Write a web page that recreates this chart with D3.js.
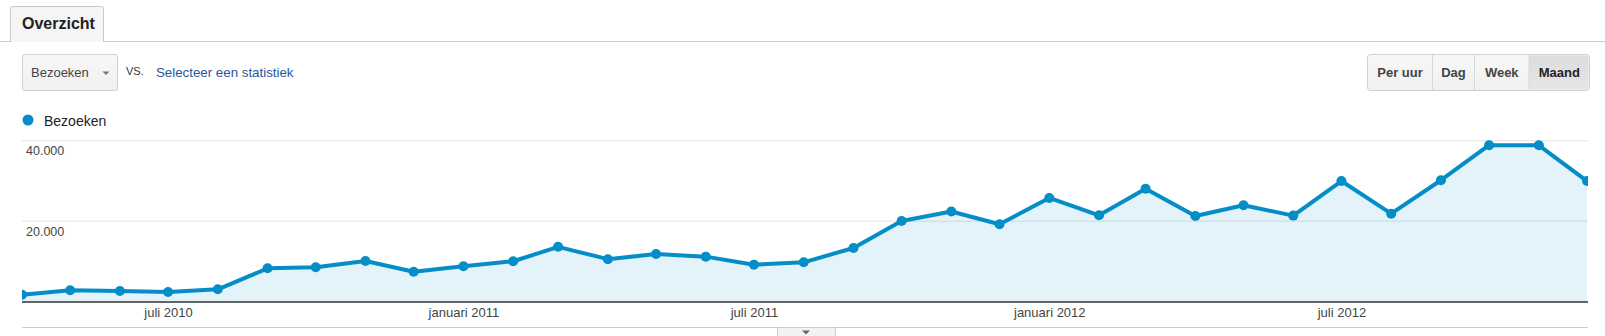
<!DOCTYPE html>
<html>
<head>
<meta charset="utf-8">
<script src="https://cdn.jsdelivr.net/npm/d3@7"></script>
<style>
  body { margin: 0; background: #fff; }
  svg { display: block; font-family: Arial, "Liberation Sans", sans-serif; }
</style>
</head>
<body>
<div id="chart"></div>
<script>
// visits per month, april 2010 .. december 2012
var visits = [1810, 2900, 2730, 2480, 3140, 8350, 8600, 10170, 7500,
              8850, 10100, 13680, 10620, 11900, 11250, 9260, 9840, 13400, 20100, 22450, 19280,
              25800, 21500, 28100, 21340, 24000, 21420, 30000, 21900, 30200, 38880, 38850, 30000];
var firstMonth = new Date(Date.UTC(2010, 3, 1)),
    lastMonth = new Date(Date.UTC(2012, 11, 1));
var months = d3.utcMonth.range(firstMonth, d3.utcMonth.offset(lastMonth, 1));

var xTickDates = [new Date(Date.UTC(2010, 6, 1)), new Date(Date.UTC(2011, 0, 1)),
                  new Date(Date.UTC(2011, 6, 1)), new Date(Date.UTC(2012, 0, 1)),
                  new Date(Date.UTC(2012, 6, 1))];
var xTickLabels = ["juli 2010", "januari 2011", "juli 2011", "januari 2012", "juli 2012"];
var yTicks = [20000, 40000];
var yTickLabels = ["20.000", "40.000"];
var periods = ["Per uur", "Dag", "Week", "Maand"];

var data = months.map(function(m, i) { return {date: m, value: visits[i]}; });

var outerWidth = 1605,
    outerHeight = 336,
    plot = {left: 22, right: 1588, top: 140.7, bottom: 302};

var x = d3.scaleUtc()
    .domain([firstMonth, lastMonth])
    .range([plot.left, 1587]);

var y = d3.scaleLinear()
    .domain([0, 40000])
    .range([plot.bottom, plot.top]);

var svg = d3.select("#chart")
    .append("svg")
        .attr("width", outerWidth)
        .attr("height", outerHeight);

var defs = svg.append("defs");
var grad = defs.append("linearGradient").attr("id", "btn").attr("x1", 0).attr("y1", 0).attr("x2", 0).attr("y2", 1);
grad.append("stop").attr("offset", "0%").attr("stop-color", "#f8f8f8");
grad.append("stop").attr("offset", "100%").attr("stop-color", "#f0f0f0");
var gradOn = defs.append("linearGradient").attr("id", "btnOn").attr("x1", 0).attr("y1", 0).attr("x2", 0).attr("y2", 1);
gradOn.append("stop").attr("offset", "0%").attr("stop-color", "#dcdcdc");
gradOn.append("stop").attr("offset", "100%").attr("stop-color", "#e6e6e6");
defs.append("clipPath").attr("id", "clip")
  .append("rect")
    .attr("x", plot.left).attr("y", 0)
    .attr("width", plot.right - plot.left).attr("height", plot.bottom);

// tab strip
svg.append("line")
    .attr("x1", 0).attr("x2", outerWidth)
    .attr("y1", 41.5).attr("y2", 41.5)
    .attr("stroke", "#c8c8c8");
svg.append("path")
    .attr("d", "M10.5,42V8.5Q10.5,6.5 12.5,6.5H101.5Q103.5,6.5 103.5,8.5V42")
    .attr("fill", "#f5f5f5")
    .attr("stroke", "#c8c8c8");
svg.append("text")
    .attr("x", 22).attr("y", 29)
    .style("font-size", "16px").style("font-weight", "bold").style("fill", "#222")
    .text("Overzicht");

// metric selector
svg.append("rect")
    .attr("x", 22.5).attr("y", 54.5).attr("width", 95).attr("height", 36).attr("rx", 2)
    .attr("fill", "url(#btn)").attr("stroke", "#d0d0d0");
svg.append("text")
    .attr("x", 31).attr("y", 77)
    .style("font-size", "13px").style("fill", "#444")
    .text("Bezoeken");
svg.append("path")
    .attr("d", "M102.5,71.5h7l-3.5,3.5z")
    .attr("fill", "#777");
svg.append("text")
    .attr("x", 126).attr("y", 75)
    .style("font-size", "11px").style("fill", "#333")
    .text("VS.");
svg.append("text")
    .attr("x", 156).attr("y", 77)
    .style("font-size", "13.3px").style("fill", "#2a5599")
    .text("Selecteer een statistiek");

// period buttons
var btnEdges = [1367.5, 1432.5, 1474.5, 1529, 1589.5];
var btn = svg.append("g");
btn.append("rect")
    .attr("x", btnEdges[0]).attr("y", 54.5)
    .attr("width", btnEdges[4] - btnEdges[0]).attr("height", 36).attr("rx", 3)
    .attr("fill", "url(#btn)").attr("stroke", "#d0d0d0");
btn.append("path")
    .attr("d", "M1529,55.5H1586.5Q1588.5,55.5 1588.5,57.5V87.5Q1588.5,89.5 1586.5,89.5H1529Z")
    .attr("fill", "url(#btnOn)");
btn.selectAll(".sep")
    .data(btnEdges.slice(1, 4))
    .enter().append("line")
    .attr("x1", function(d) { return d; }).attr("x2", function(d) { return d; })
    .attr("y1", 55).attr("y2", 90)
    .attr("stroke", "#d8d8d8");
btn.selectAll(".lbl")
    .data(periods)
    .enter().append("text")
    .attr("x", function(d, i) { return (btnEdges[i] + btnEdges[i + 1]) / 2; })
    .attr("y", 77)
    .attr("text-anchor", "middle")
    .style("font-size", "13px").style("font-weight", "bold")
    .style("fill", function(d, i) { return i === 3 ? "#222" : "#444"; })
    .text(function(d) { return d; });

// legend
svg.append("circle").attr("cx", 28).attr("cy", 120).attr("r", 5.5).attr("fill", "#058dc7");
svg.append("text")
    .attr("x", 44).attr("y", 126)
    .style("font-size", "14px").style("fill", "#222")
    .text("Bezoeken");

// grid
svg.selectAll(".grid")
    .data(yTicks)
    .enter().append("line")
    .attr("x1", plot.left).attr("x2", plot.right)
    .attr("y1", function(d) { return y(d); }).attr("y2", function(d) { return y(d); })
    .attr("stroke", "#ececec").attr("stroke-width", 1.5);

var objects = svg.append("g").attr("clip-path", "url(#clip)");

objects.append("path")
    .datum(data)
    .attr("d", d3.area()
        .x(function(d) { return x(d.date); })
        .y0(y(0))
        .y1(function(d) { return y(d.value); }))
    .attr("fill", "#058dc7")
    .attr("fill-opacity", 0.11);

objects.append("path")
    .datum(data)
    .attr("d", d3.line()
        .x(function(d) { return x(d.date); })
        .y(function(d) { return y(d.value); }))
    .attr("fill", "none")
    .attr("stroke", "#058dc7")
    .attr("stroke-width", 4)
    .attr("stroke-linejoin", "round");

objects.selectAll(".dot")
    .data(data)
    .enter().append("circle")
    .attr("cx", function(d) { return x(d.date); })
    .attr("cy", function(d) { return y(d.value); })
    .attr("r", 5)
    .attr("fill", "#058dc7");

// y labels inside the plot
svg.selectAll(".ylbl")
    .data(yTicks)
    .enter().append("text")
    .attr("x", 26)
    .attr("y", function(d) { return y(d) + 14.5; })
    .style("font-size", "12.5px").style("fill", "#444")
    .text(function(d, i) { return yTickLabels[i]; });

// x axis
svg.append("line")
    .attr("x1", plot.left).attr("x2", plot.right)
    .attr("y1", plot.bottom).attr("y2", plot.bottom)
    .attr("stroke", "#333").attr("stroke-width", 1.5);

var xAxis = d3.axisBottom(x)
    .tickValues(xTickDates)
    .tickSize(0)
    .tickPadding(0)
    .tickFormat(function(d, i) { return xTickLabels[i]; });

svg.append("g")
    .attr("transform", "translate(0," + 308 + ")")
    .call(xAxis)
    .call(function(g) { g.select(".domain").remove(); })
    .selectAll("text")
    .style("font-family", "Arial, 'Liberation Sans', sans-serif")
    .style("font-size", "13px")
    .style("fill", "#444");

svg.append("line")
    .attr("x1", plot.left).attr("x2", plot.right)
    .attr("y1", 327.5).attr("y2", 327.5)
    .attr("stroke", "#ccc");

// collapse handle
svg.append("rect")
    .attr("x", 777.5).attr("y", 327.5).attr("width", 58).attr("height", 12)
    .attr("fill", "#f2f2f2").attr("stroke", "#cfcfcf");
svg.append("path")
    .attr("d", "M802,330.5h8l-4,4z")
    .attr("fill", "#666");
</script>
</body>
</html>
